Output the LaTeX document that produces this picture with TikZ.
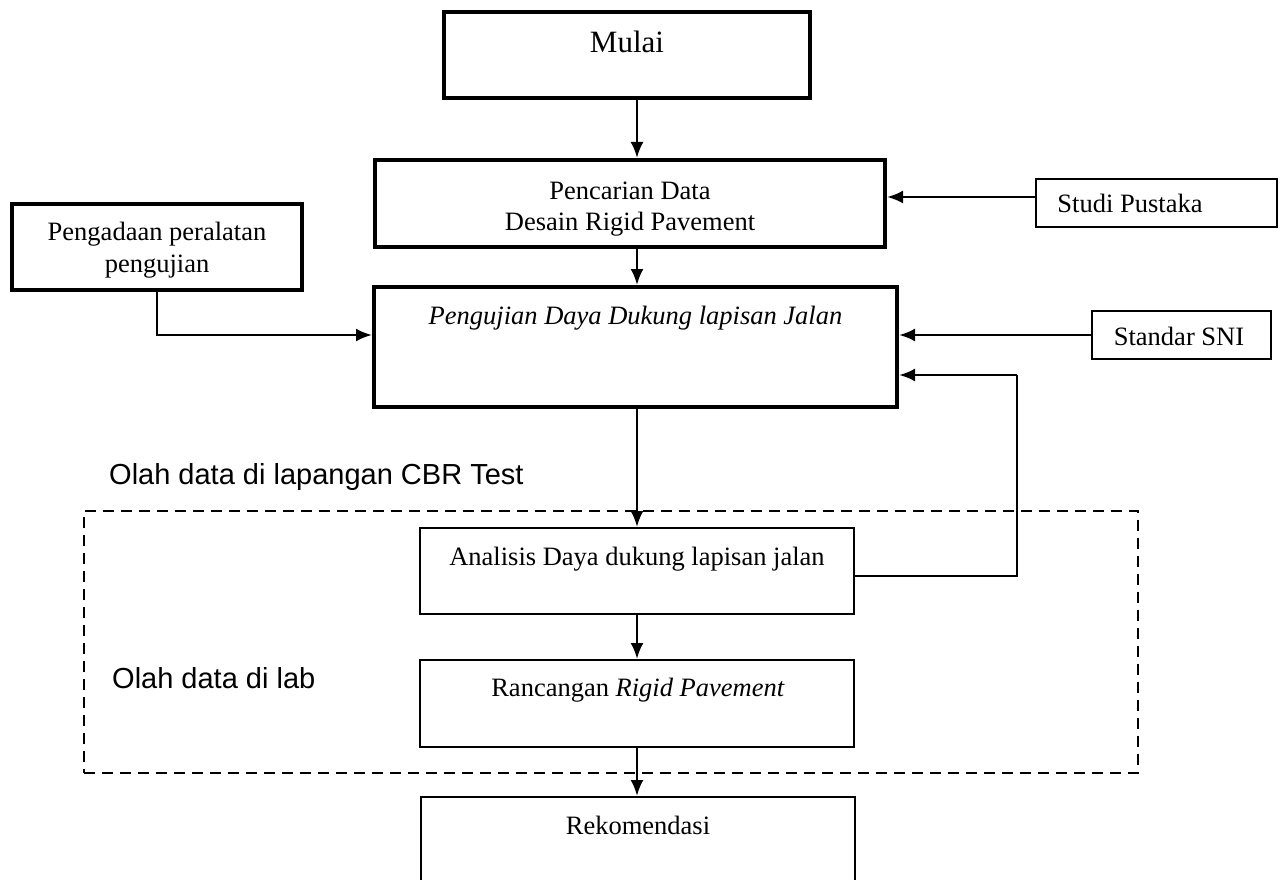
\documentclass[tikz,border=0pt]{standalone}
\usepackage{fontspec}
\setmainfont{Liberation Serif}
\setsansfont{Liberation Sans}
\usepackage{tikz}
\usetikzlibrary{arrows.meta,positioning}
\tikzset{>={Latex[length=16pt,width=13pt]}}
\tikzset{
  boxthick/.style={rectangle, draw, line width=4pt, inner sep=0pt},
  boxthin/.style={rectangle, draw, line width=2pt, inner sep=0pt},
  txt/.style={inner sep=0pt, align=center, font=\fontsize{26.5}{31.5}\selectfont},
  olah/.style={inner sep=0pt, anchor=base west, font=\sffamily\fontsize{29}{34}\selectfont},
  arr/.style={->, line width=2.5pt},
  fb/.style={line width=2pt},
}

\begin{document}
\begin{tikzpicture}[x=1pt, y=-1pt]
  \useasboundingbox (0,0) rectangle (1283,880);
  \coordinate (axis) at (637,0);

  %% dashed frame of the processing steps
  \node[draw, line width=2.5pt, dash pattern=on 11pt off 7pt, %%
    minimum width=1054pt, minimum height=262pt] (frame) at (611,642) {};
  \node[olah] (cbr) at (109,484) {Olah data di lapangan CBR Test};
  \node[olah] (lab) at (112,688) {Olah data di lab};

  %% boxes
  \node[boxthick, minimum width=366pt, minimum height=86pt] (mulai) at (627,55) {};
  \node[txt, anchor=base, font=\fontsize{31}{36}\selectfont] (mulaiT) at (627,53) {Mulai};

  \node[boxthick, minimum width=510pt, minimum height=87pt] (cari) at (630,203.5) {};
  \node[txt, anchor=north] (cariT) at (630,181.5) {Pencarian Data\\Desain Rigid Pavement};

  \node[boxthick, minimum width=523pt, minimum height=120pt] (uji) at (635.5,347) {};
  \node[txt, anchor=base] (ujiT) at (635.5,324) {\itshape Pengujian Daya Dukung lapisan Jalan};

  \node[boxthick, minimum width=290pt, minimum height=86pt] (adaan) at (157,247) {};
  \node[txt, anchor=north] (adaanT) at (157,222) {Pengadaan peralatan\\pengujian};

  \node[boxthin, minimum width=241pt, minimum height=48pt] (studi) at (1156.5,203) {};
  \node[txt, anchor=base] (studiT) at (1130,212) {Studi Pustaka};

  \node[boxthin, minimum width=179pt, minimum height=48pt] (sni) at (1181.5,335) {};
  \node[txt, anchor=base] (sniT) at (1179,345) {Standar SNI};

  \node[boxthin, minimum width=434pt, minimum height=86pt] (analisis) at (637,571) {};
  \node[txt, anchor=base] (analisisT) at (637,565) {Analisis Daya dukung lapisan jalan};

  \node[boxthin, minimum width=434pt, minimum height=87pt] (rancang) at (637,703.5) {};
  \node[txt, anchor=base] (rancangT) at (638,696) {Rancangan \textit{Rigid Pavement}};

  \node[boxthin, minimum width=434pt, minimum height=96pt] (rekom) at (637.5,845) {};
  \node[txt, anchor=base] (rekomT) at (638,834) {Rekomendasi};

  %% connectors
  \draw[arr] (mulai.south -| axis) -- (cari.north -| axis);
  \draw[arr] (cari.south -| axis) -- (uji.north -| axis);
  \draw[arr] (uji.south -| axis) -- (analisis.north -| axis);
  \draw[arr] (analisis.south -| axis) -- (rancang.north -| axis);
  \draw[arr] (rancang.south -| axis) -- (rekom.north -| axis);

  \coordinate (sp) at (0,197);
  \draw[arr] (studi.west |- sp) -- (cari.east |- sp);
  \draw[arr] (sni.west) -- (uji.east |- sni.west);
  \draw[arr] (adaan.south) |- (uji.west |- 0,335);

  \coordinate (fbB) at (1017,576);
  \coordinate (fbT) at (1017,375);
  \draw[fb] (analisis.east |- fbB) -- (fbB) -- (fbT);
  \draw[arr] (fbT) -- (uji.east |- fbT);
\end{tikzpicture}
\end{document}
